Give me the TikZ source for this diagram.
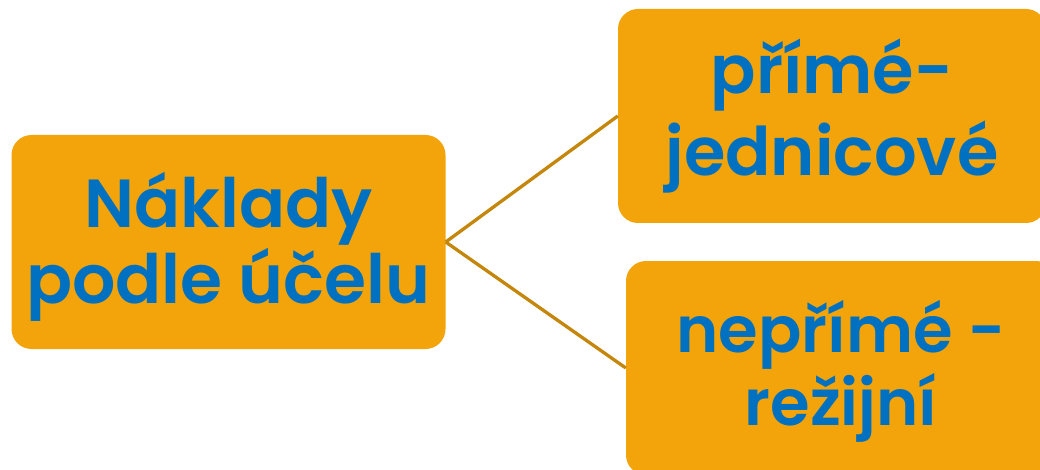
\documentclass[tikz,border=0pt]{standalone}
\usepackage{fontspec}
\setmainfont{Poppins}[BoldFont=* SemiBold]
\definecolor{boxorange}{HTML}{F2A40A}
\definecolor{txtblue}{HTML}{0070C0}
\definecolor{linegold}{HTML}{C4870B}
\begin{document}
\begin{tikzpicture}[x=1pt,y=-1pt,
  costbox/.style={fill=boxorange, draw=none, rounded corners=20pt, inner sep=0pt,
    minimum height=214pt, text=txtblue, align=center},
  link/.style={draw=linegold, line width=3.3pt}]
\useasboundingbox (0,0) rectangle (1040,470);
\clip (0,0) rectangle (1040,470);
\node[costbox, minimum width=434pt, text height=160pt, text depth=38pt,
  font=\bfseries\fontsize{68}{76}\selectfont] (L) at (228.5,242) {Náklady\\podle účelu};
\node[costbox, minimum width=428pt, text height=160pt, text depth=40pt,
  font=\bfseries\fontsize{67}{82}\selectfont] (TR) at (832,116) {přímé-\\jednicové};
\node[costbox, minimum width=430pt, text height=156pt, text depth=42pt,
  font=\bfseries\fontsize{64}{73}\selectfont] (BR) at (841,368) {nepřímé -\\režijní};
\draw[link] (L.east) -- (TR.west);
\draw[link] (L.east) -- (BR.west);
\end{tikzpicture}
\end{document}
